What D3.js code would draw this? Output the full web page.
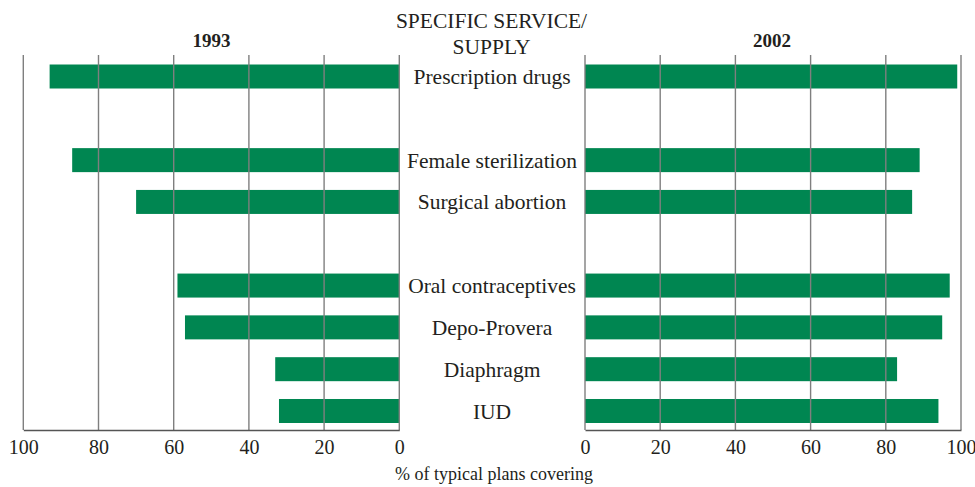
<!DOCTYPE html>
<html>
<head>
<meta charset="utf-8">
<script src="https://cdn.jsdelivr.net/npm/d3@7"></script>
<style>
  html, body { margin: 0; padding: 0; background: #fff; }
  svg { display: block; }
</style>
</head>
<body>
<svg id="chart" width="975" height="487"></svg>
<script>
// ---- data ----
const slots = ["Prescription drugs", "gap1", "Female sterilization", "Surgical abortion", "gap2",
               "Oral contraceptives", "Depo-Provera", "Diaphragm", "IUD"];
const categories = ["Prescription drugs", "Female sterilization", "Surgical abortion",
                    "Oral contraceptives", "Depo-Provera", "Diaphragm", "IUD"];
const values1993 = [93, 87, 70, 59, 57, 33, 32];
const values2002 = [99, 89, 87, 97, 95, 83, 94];
const tickValues = [0, 20, 40, 60, 80, 100];
const panelTitles = ["1993", "2002"];
const headerLines = ["SPECIFIC SERVICE/", "SUPPLY"];
const axisTitle = "% of typical plans covering";

// ---- layout ----
const svg = d3.select("#chart");
const FONT = "'Liberation Serif'";
const INK = "#231f20";
const green = "#008651";
const gridColor = "#7f7f7f";
const plotTop = 55, plotBottom = 430;

const y = d3.scaleBand().domain(slots).range([55.6, 431.9]).paddingInner(0.426).paddingOuter(0.213);
const xL = d3.scaleLinear().domain([0, 100]).range([399.3, 23.3]);
const xR = d3.scaleLinear().domain([0, 100]).range([585, 961]);

function panel(x, values, title, titleX) {
  const g = svg.append("g");
  g.selectAll("rect.bar").data(categories).join("rect")
    .attr("class", "bar")
    .attr("x", (d, i) => Math.min(x(0), x(values[i])))
    .attr("width", (d, i) => Math.abs(x(values[i]) - x(0)))
    .attr("y", d => y(d))
    .attr("height", y.bandwidth())
    .attr("fill", green);
  g.selectAll("line.grid").data(tickValues).join("line")
    .attr("class", "grid")
    .attr("x1", d => x(d)).attr("x2", d => x(d))
    .attr("y1", plotTop).attr("y2", plotBottom)
    .attr("stroke", gridColor).attr("stroke-width", 1.4);
  const axis = d3.axisBottom(x).tickValues(tickValues).tickSize(0).tickPadding(10);
  const ag = g.append("g").attr("transform", `translate(0,${plotBottom})`).call(axis);
  ag.attr("font-family", null);
  ag.select(".domain").attr("stroke", "#555").attr("stroke-width", 1.6);
  ag.selectAll("text")
    .style("font-family", FONT).style("font-size", "20px").attr("fill", INK);
  svg.append("text").attr("x", titleX).attr("y", 47)
    .attr("text-anchor", "middle")
    .style("font-family", FONT).style("font-weight", "bold").style("font-size", "19px")
    .attr("fill", INK)
    .text(title);
}

panel(xL, values1993, panelTitles[0], 211.4);
panel(xR, values2002, panelTitles[1], 772);

svg.selectAll("text.cat").data(categories).join("text")
  .attr("class", "cat")
  .attr("x", 492)
  .attr("y", d => y(d) + y.bandwidth() / 2)
  .attr("dy", "0.35em")
  .attr("text-anchor", "middle")
  .style("font-family", FONT).style("font-size", "21.5px")
  .attr("fill", INK)
  .text(d => d);

svg.selectAll("text.hdr").data(headerLines).join("text")
  .attr("class", "hdr")
  .attr("x", 491.5)
  .attr("y", (d, i) => 28 + i * 26)
  .attr("text-anchor", "middle")
  .style("font-family", FONT).style("font-size", "21.5px")
  .attr("fill", INK)
  .text(d => d);

svg.append("text").attr("x", 494).attr("y", 480)
  .attr("text-anchor", "middle")
  .style("font-family", FONT).style("font-size", "18px")
  .attr("fill", INK)
  .text(axisTitle);
</script>
</body>
</html>
